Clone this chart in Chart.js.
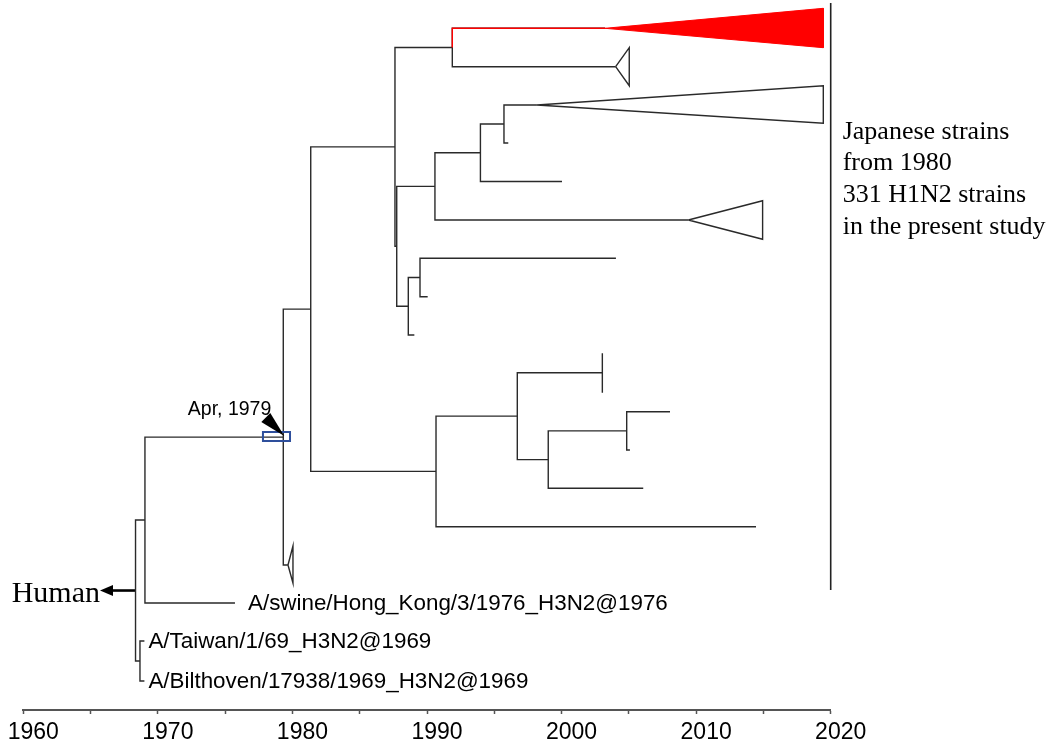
<!DOCTYPE html>
<html>
<head>
<meta charset="utf-8">
<script src="https://cdn.jsdelivr.net/npm/chart.js@4.4.0/dist/chart.umd.min.js"></script>
<style>
  html, body { margin: 0; padding: 0; background: #fff; }
  #wrap { position: relative; width: 1052px; height: 744px; }
</style>
</head>
<body>
<div id="wrap"><canvas id="tree"></canvas></div>
<script>
// time axis (years)
const axisMin = 1960
const axisMax = 2020
const tickStep = 5
const labelStep = 10

// tree: every node has a parent, a date (x) and, for tips, a row (y)
// internal rows are the midpoint of their children
const nodeIds = [
  'root', 'hkNode', 'tbNode', 'taiwan', 'bilthoven', 'hk',
  'apr1979', 'n1981', 'tri1980',
  'n1987a', 'n1990b', 'n1991', 'n1987b', 'redClade', 'cladeB',
  'n1990a', 'n1988', 'n1994', 'cladeC', 'n1996', 'tip2000', 'cladeD', 'tip1996',
  'n1989', 'tip1989', 'tip2004', 'tip1990',
  'n1997', 'tip2014', 'cladeE', 'n1999', 'n2005', 'tip2006', 'tip2008', 'tip2005'
]
const nodeParents = [
  null, 'root', 'root', 'tbNode', 'tbNode', 'hkNode',
  'hkNode', 'apr1979', 'apr1979',
  'n1981', 'n1981', 'n1987a', 'n1987a', 'n1991', 'n1991',
  'n1987b', 'n1987b', 'n1990a', 'n1990a', 'n1994', 'n1994', 'n1996', 'n1996',
  'n1988', 'n1988', 'n1989', 'n1989',
  'n1990b', 'n1990b', 'n1997', 'n1997', 'n1999', 'n1999', 'n2005', 'n2005'
]
const nodeYears = [
  1968.34, 1969.04, 1968.67, 1969.0, 1969.0, 1975.73,
  1979.32, 1981.36, 1979.67,
  1987.62, 1990.67, 1991.88, 1987.75, 2003.23, 2004.02,
  1990.59, 1988.61, 1993.97, 2009.42, 1995.72, 2000.03, 1998.17, 1996.04,
  1989.48, 1989.06, 2004.04, 1990.05,
  1996.71, 2014.45, 2003.03, 1999.01, 2004.84, 2006.07, 2008.06, 2005.08
]
const leafRows = [
  null, null, null, 641, 681, 603,
  null, null, 565,
  null, null, null, null, 28.3, 66.7,
  null, null, null, 220, null, 181.5, 105, 143,
  null, 335, 258.3, 296.7,
  null, 526.7, 372.7, null, null, 488.3, 411.7, 450
]

// collapsed clades drawn as wedges
const cladeIds = ['tri1980', 'redClade', 'cladeB', 'cladeC', 'cladeD', 'cladeE']
const cladeEndYears = [1980.04, 2019.45, 2005.03, 2014.94, 2019.45, 2003.03]
const cladeTopRows = [546, 8.3, 47.7, 200.7, 85.7, 353.3]
const cladeBottomRows = [583, 47.7, 85.7, 239.3, 123.3, 392.7]
const highlightClade = 'redClade'

// tip labels
const labelIds = ['hk', 'taiwan', 'bilthoven']
const labelTexts = [
  'A/swine/Hong_Kong/3/1976_H3N2@1976',
  'A/Taiwan/1/69_H3N2@1969',
  'A/Bilthoven/17938/1969_H3N2@1969'
]

// marked node
const markedNode = 'apr1979'
const markedText = 'Apr, 1979'
const markedBoxYears = [1977.81, 1979.82]
const markedBoxRows = [432, 441]

// outgroup arrow and study bracket
const humanText = 'Human'
const humanArrowYear = 1965.7
const studyBarYear = 2020
const studyBarRows = [3, 590]
const studyLines = ['Japanese strains', 'from 1980', '331 H1N2 strains', 'in the present study']

const lineColor = '#2a2a2a'
const red = '#ff0000'

const idx = {}
nodeIds.forEach((id, i) => { idx[id] = i })
const children = nodeIds.map(() => [])
nodeParents.forEach((p, i) => { if (p) children[idx[p]].push(i) })
const rows = []
function rowOf(i) {
  if (rows[i] !== undefined) return rows[i]
  if (leafRows[i] !== null) return (rows[i] = leafRows[i])
  const r = children[i].map(rowOf)
  return (rows[i] = (Math.min(...r) + Math.max(...r)) / 2)
}
nodeIds.forEach((_, i) => rowOf(i))

function path(pts, opts) {
  return Object.assign({
    data: pts.map(([x, y]) => ({ x, y })),
    showLine: true,
    borderColor: lineColor,
    borderWidth: 1.4,
    pointRadius: 0,
    fill: false,
    tension: 0,
    clip: false,
    order: 2
  }, opts || {})
}

const datasets = []

// brackets for internal nodes
children.forEach((kids, i) => {
  if (!kids.length) return
  const s = kids.slice().sort((a, b) => rows[a] - rows[b])
  const a = s[0], b = s[s.length - 1]
  datasets.push(path([
    [nodeYears[a], rows[a]],
    [nodeYears[i], rows[a]],
    [nodeYears[i], rows[b]],
    [nodeYears[b], rows[b]]
  ]))
})

// highlighted branch in red
const hi = idx[highlightClade]
const hp = idx[nodeParents[hi]]
datasets.push(path([
  [nodeYears[hp], rows[hp]],
  [nodeYears[hp], rows[hi]],
  [nodeYears[hi], rows[hi]]
], { borderColor: red, order: 0 }))

// wedges
cladeIds.forEach((id, k) => {
  const i = idx[id]
  const isHi = id === highlightClade
  datasets.push(path([
    [nodeYears[i], rows[i]],
    [cladeEndYears[k], cladeTopRows[k]],
    [cladeEndYears[k], cladeBottomRows[k]],
    [nodeYears[i], rows[i]]
  ], isHi ? { borderColor: red, backgroundColor: red, fill: 'shape', borderWidth: 1, order: 0 } : {}))
})

// outgroup arrow shaft
datasets.push(path([
  [nodeYears[idx.root], rows[idx.root]],
  [humanArrowYear + 0.8, rows[idx.root]]
], { borderColor: '#000', borderWidth: 2.6 }))

// study bar
datasets.push(path([
  [studyBarYear, studyBarRows[0]],
  [studyBarYear, studyBarRows[1]]
], { borderColor: '#222', borderWidth: 1.6 }))

const annotations = {
  id: 'annotations',
  afterDatasetsDraw(chart) {
    const { ctx } = chart
    const xs = chart.scales.x, ys = chart.scales.y
    const px = v => xs.getPixelForValue(v)
    const py = v => ys.getPixelForValue(v)
    ctx.save()

    // tip labels
    ctx.fillStyle = '#000'
    ctx.font = '22.4px "Liberation Sans", Arial, sans-serif'
    ctx.textBaseline = 'middle'
    ctx.textAlign = 'left'
    labelIds.forEach((id, k) => {
      const i = idx[id]
      const gap = id === 'hk' ? 13 : 4
      ctx.fillText(labelTexts[k], px(nodeYears[i]) + gap, py(rows[i]) + 1)
    })

    // marked node: box, pointer, text
    const mi = idx[markedNode]
    const mx = px(nodeYears[mi]), my = py(rows[mi])
    ctx.strokeStyle = '#2e4f9c'
    ctx.lineWidth = 2
    const bx0 = px(markedBoxYears[0]), bx1 = px(markedBoxYears[1])
    const by0 = py(markedBoxRows[0]), by1 = py(markedBoxRows[1])
    ctx.strokeRect(bx0, by0, bx1 - bx0, by1 - by0)
    ctx.fillStyle = '#000'
    ctx.beginPath()
    ctx.moveTo(mx + 1, my - 1)
    ctx.lineTo(mx - 22, my - 15)
    ctx.lineTo(mx - 13, my - 24)
    ctx.closePath()
    ctx.fill()
    ctx.font = '19.5px "Liberation Sans", Arial, sans-serif'
    ctx.textAlign = 'right'
    ctx.fillText(markedText, mx - 12, my - 27)

    // outgroup arrow head and label
    const rx = px(humanArrowYear), ry = py(rows[idx.root])
    ctx.beginPath()
    ctx.moveTo(rx, ry)
    ctx.lineTo(rx + 13, ry - 5.5)
    ctx.lineTo(rx + 13, ry + 5.5)
    ctx.closePath()
    ctx.fill()
    ctx.font = '30px "Liberation Serif", "Times New Roman", serif'
    ctx.textAlign = 'right'
    ctx.textBaseline = 'alphabetic'
    ctx.fillText(humanText, rx, ry + 11)

    // study text
    ctx.font = '26px "Liberation Serif", "Times New Roman", serif'
    ctx.textAlign = 'left'
    ctx.textBaseline = 'middle'
    const sx = px(studyBarYear) + 12
    studyLines.forEach((t, k) => ctx.fillText(t, sx, 132 + k * 31.6))

    ctx.restore()
  }
}

new Chart(document.getElementById('tree'), {
  type: 'scatter',
  data: { datasets },
  options: {
    responsive: true,
    maintainAspectRatio: false,
    animation: false,
    layout: { padding: { left: 23.3, right: 221.3, top: 0, bottom: 0 } },
    plugins: { legend: { display: false }, tooltip: { enabled: false } },
    scales: {
      x: {
        type: 'linear',
        min: axisMin,
        max: axisMax,
        afterFit(scale) {
          scale.height = 34
          scale.paddingLeft = 0
          scale.paddingRight = 0
        },
        border: { display: true, color: '#555', width: 2 },
        grid: { display: true, drawOnChartArea: false, drawTicks: true, tickLength: 4, color: '#555', tickWidth: 1.5 },
        ticks: {
          stepSize: tickStep,
          autoSkip: false,
          maxRotation: 0,
          labelOffset: 10,
          padding: 5,
          color: '#000',
          font: { family: '"Liberation Sans", Arial, sans-serif', size: 23 },
          callback: v => (v % labelStep === 0 ? String(v) : '')
        }
      },
      y: {
        type: 'linear',
        display: false,
        reverse: true,
        min: 0,
        max: 710
      }
    }
  },
  plugins: [annotations]
})
</script>
</body>
</html>
